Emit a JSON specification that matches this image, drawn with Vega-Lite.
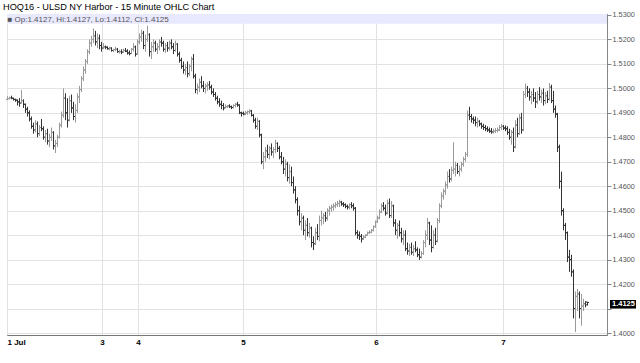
{
"$schema":"https://vega.github.io/schema/vega-lite/v6.json",
"width":600,"height":321,
"autosize":{"type":"none"},
"padding":{"left":7,"top":14,"right":33,"bottom":28},
"background":"white",
"config":{"view":{"stroke":"#888","strokeWidth":1},"font":"Liberation Sans","axis":{"labelOverlap":false,"labelBound":false}},
"title":{"text":"HOQ16 - ULSD NY Harbor - 15 Minute OHLC Chart","anchor":"start","frame":"group","fontSize":9.2,"fontWeight":"normal","color":"#000","baseline":"alphabetic","offset":4,"dx":-4,"dy":12},
"datasets":{"bars":[
{"t":0,"o":1.4955,"h":1.4968,"l":1.4952,"c":1.4958},
{"t":1,"o":1.4958,"h":1.4966,"l":1.4955,"c":1.4962},
{"t":2,"o":1.4962,"h":1.4970,"l":1.4956,"c":1.4960},
{"t":3,"o":1.4960,"h":1.4962,"l":1.4950,"c":1.4955},
{"t":4,"o":1.4955,"h":1.4958,"l":1.4945,"c":1.4952},
{"t":5,"o":1.4952,"h":1.4955,"l":1.4930,"c":1.4945},
{"t":6,"o":1.4945,"h":1.4960,"l":1.4925,"c":1.4940},
{"t":7,"o":1.4940,"h":1.4994,"l":1.4938,"c":1.4950},
{"t":8,"o":1.4950,"h":1.4955,"l":1.4920,"c":1.4935},
{"t":9,"o":1.4935,"h":1.4938,"l":1.4900,"c":1.4915},
{"t":10,"o":1.4915,"h":1.4925,"l":1.4885,"c":1.4900},
{"t":11,"o":1.4900,"h":1.4910,"l":1.4865,"c":1.4875},
{"t":12,"o":1.4875,"h":1.4885,"l":1.4835,"c":1.4845},
{"t":13,"o":1.4845,"h":1.4860,"l":1.4815,"c":1.4830},
{"t":14,"o":1.4830,"h":1.4870,"l":1.4820,"c":1.4855},
{"t":15,"o":1.4855,"h":1.4865,"l":1.4800,"c":1.4815},
{"t":16,"o":1.4815,"h":1.4850,"l":1.4805,"c":1.4840},
{"t":17,"o":1.4840,"h":1.4875,"l":1.4825,"c":1.4835},
{"t":18,"o":1.4835,"h":1.4845,"l":1.4790,"c":1.4800},
{"t":19,"o":1.4800,"h":1.4830,"l":1.4780,"c":1.4815},
{"t":20,"o":1.4815,"h":1.4835,"l":1.4770,"c":1.4785},
{"t":21,"o":1.4785,"h":1.4815,"l":1.4760,"c":1.4800},
{"t":22,"o":1.4800,"h":1.4840,"l":1.4785,"c":1.4820},
{"t":23,"o":1.4820,"h":1.4825,"l":1.4750,"c":1.4765},
{"t":24,"o":1.4765,"h":1.4790,"l":1.4736,"c":1.4775},
{"t":25,"o":1.4775,"h":1.4810,"l":1.4760,"c":1.4800},
{"t":26,"o":1.4800,"h":1.4860,"l":1.4795,"c":1.4850},
{"t":27,"o":1.4850,"h":1.4905,"l":1.4840,"c":1.4890},
{"t":28,"o":1.4890,"h":1.5000,"l":1.4880,"c":1.4960},
{"t":29,"o":1.4960,"h":1.4980,"l":1.4870,"c":1.4900},
{"t":30,"o":1.4900,"h":1.4960,"l":1.4840,"c":1.4870},
{"t":31,"o":1.4870,"h":1.4970,"l":1.4865,"c":1.4950},
{"t":32,"o":1.4950,"h":1.4975,"l":1.4900,"c":1.4920},
{"t":33,"o":1.4920,"h":1.4945,"l":1.4870,"c":1.4885},
{"t":34,"o":1.4885,"h":1.4935,"l":1.4860,"c":1.4910},
{"t":35,"o":1.4910,"h":1.4980,"l":1.4900,"c":1.4965},
{"t":36,"o":1.4965,"h":1.5010,"l":1.4940,"c":1.4995},
{"t":37,"o":1.4995,"h":1.5050,"l":1.4985,"c":1.5040},
{"t":38,"o":1.5040,"h":1.5090,"l":1.5030,"c":1.5075},
{"t":39,"o":1.5075,"h":1.5120,"l":1.5060,"c":1.5110},
{"t":40,"o":1.5110,"h":1.5160,"l":1.5100,"c":1.5150},
{"t":41,"o":1.5150,"h":1.5200,"l":1.5140,"c":1.5185},
{"t":42,"o":1.5185,"h":1.5215,"l":1.5170,"c":1.5200},
{"t":43,"o":1.5200,"h":1.5245,"l":1.5185,"c":1.5215},
{"t":44,"o":1.5215,"h":1.5235,"l":1.5175,"c":1.5190},
{"t":45,"o":1.5190,"h":1.5225,"l":1.5165,"c":1.5205},
{"t":46,"o":1.5205,"h":1.5220,"l":1.5160,"c":1.5175},
{"t":47,"o":1.5175,"h":1.5190,"l":1.5150,"c":1.5165},
{"t":48,"o":1.5165,"h":1.5185,"l":1.5160,"c":1.5170},
{"t":49,"o":1.5170,"h":1.5175,"l":1.5160,"c":1.5168},
{"t":50,"o":1.5168,"h":1.5172,"l":1.5158,"c":1.5162},
{"t":51,"o":1.5162,"h":1.5170,"l":1.5155,"c":1.5165},
{"t":52,"o":1.5165,"h":1.5168,"l":1.5150,"c":1.5155},
{"t":53,"o":1.5155,"h":1.5162,"l":1.5148,"c":1.5158},
{"t":54,"o":1.5158,"h":1.5170,"l":1.5152,"c":1.5160},
{"t":55,"o":1.5160,"h":1.5165,"l":1.5145,"c":1.5150},
{"t":56,"o":1.5150,"h":1.5158,"l":1.5142,"c":1.5150},
{"t":57,"o":1.5150,"h":1.5160,"l":1.5140,"c":1.5148},
{"t":58,"o":1.5148,"h":1.5162,"l":1.5145,"c":1.5155},
{"t":59,"o":1.5155,"h":1.5165,"l":1.5148,"c":1.5152},
{"t":60,"o":1.5152,"h":1.5160,"l":1.5138,"c":1.5145},
{"t":61,"o":1.5145,"h":1.5155,"l":1.5135,"c":1.5142},
{"t":62,"o":1.5142,"h":1.5165,"l":1.5140,"c":1.5160},
{"t":63,"o":1.5160,"h":1.5185,"l":1.5150,"c":1.5170},
{"t":64,"o":1.5170,"h":1.5175,"l":1.5130,"c":1.5140},
{"t":65,"o":1.5140,"h":1.5200,"l":1.5138,"c":1.5190},
{"t":66,"o":1.5190,"h":1.5225,"l":1.5180,"c":1.5210},
{"t":67,"o":1.5210,"h":1.5240,"l":1.5190,"c":1.5225},
{"t":68,"o":1.5225,"h":1.5235,"l":1.5160,"c":1.5175},
{"t":69,"o":1.5175,"h":1.5220,"l":1.5150,"c":1.5200},
{"t":70,"o":1.5200,"h":1.5256,"l":1.5190,"c":1.5220},
{"t":71,"o":1.5220,"h":1.5225,"l":1.5130,"c":1.5150},
{"t":72,"o":1.5150,"h":1.5190,"l":1.5120,"c":1.5170},
{"t":73,"o":1.5170,"h":1.5200,"l":1.5150,"c":1.5185},
{"t":74,"o":1.5185,"h":1.5195,"l":1.5150,"c":1.5160},
{"t":75,"o":1.5160,"h":1.5185,"l":1.5140,"c":1.5170},
{"t":76,"o":1.5170,"h":1.5200,"l":1.5155,"c":1.5190},
{"t":77,"o":1.5190,"h":1.5210,"l":1.5170,"c":1.5185},
{"t":78,"o":1.5185,"h":1.5195,"l":1.5150,"c":1.5160},
{"t":79,"o":1.5160,"h":1.5185,"l":1.5145,"c":1.5175},
{"t":80,"o":1.5175,"h":1.5190,"l":1.5150,"c":1.5165},
{"t":81,"o":1.5165,"h":1.5195,"l":1.5155,"c":1.5185},
{"t":82,"o":1.5185,"h":1.5200,"l":1.5160,"c":1.5170},
{"t":83,"o":1.5170,"h":1.5185,"l":1.5140,"c":1.5155},
{"t":84,"o":1.5155,"h":1.5195,"l":1.5150,"c":1.5180},
{"t":85,"o":1.5180,"h":1.5185,"l":1.5130,"c":1.5140},
{"t":86,"o":1.5140,"h":1.5150,"l":1.5105,"c":1.5115},
{"t":87,"o":1.5115,"h":1.5125,"l":1.5080,"c":1.5090},
{"t":88,"o":1.5090,"h":1.5110,"l":1.5060,"c":1.5075},
{"t":89,"o":1.5075,"h":1.5100,"l":1.5055,"c":1.5085},
{"t":90,"o":1.5085,"h":1.5110,"l":1.5045,"c":1.5060},
{"t":91,"o":1.5060,"h":1.5100,"l":1.5050,"c":1.5090},
{"t":92,"o":1.5090,"h":1.5130,"l":1.5070,"c":1.5120},
{"t":93,"o":1.5120,"h":1.5140,"l":1.5040,"c":1.5050},
{"t":94,"o":1.5050,"h":1.5060,"l":1.4980,"c":1.4995},
{"t":95,"o":1.4995,"h":1.5020,"l":1.4975,"c":1.5005},
{"t":96,"o":1.5005,"h":1.5040,"l":1.4985,"c":1.5025},
{"t":97,"o":1.5025,"h":1.5050,"l":1.5000,"c":1.5010},
{"t":98,"o":1.5010,"h":1.5030,"l":1.4985,"c":1.5000},
{"t":99,"o":1.5000,"h":1.5020,"l":1.4980,"c":1.5010},
{"t":100,"o":1.5010,"h":1.5025,"l":1.4990,"c":1.5015},
{"t":101,"o":1.5015,"h":1.5030,"l":1.4995,"c":1.5005},
{"t":102,"o":1.5005,"h":1.5015,"l":1.4975,"c":1.4985},
{"t":103,"o":1.4985,"h":1.5000,"l":1.4965,"c":1.4975},
{"t":104,"o":1.4975,"h":1.4985,"l":1.4950,"c":1.4960},
{"t":105,"o":1.4960,"h":1.4970,"l":1.4935,"c":1.4945},
{"t":106,"o":1.4945,"h":1.4960,"l":1.4925,"c":1.4935},
{"t":107,"o":1.4935,"h":1.4950,"l":1.4915,"c":1.4930},
{"t":108,"o":1.4930,"h":1.4940,"l":1.4910,"c":1.4920},
{"t":109,"o":1.4920,"h":1.4935,"l":1.4918,"c":1.4925},
{"t":110,"o":1.4925,"h":1.4932,"l":1.4920,"c":1.4928},
{"t":111,"o":1.4928,"h":1.4935,"l":1.4920,"c":1.4925},
{"t":112,"o":1.4925,"h":1.4930,"l":1.4915,"c":1.4922},
{"t":113,"o":1.4922,"h":1.4935,"l":1.4918,"c":1.4930},
{"t":114,"o":1.4930,"h":1.4940,"l":1.4922,"c":1.4935},
{"t":115,"o":1.4935,"h":1.4945,"l":1.4925,"c":1.4932},
{"t":116,"o":1.4932,"h":1.4935,"l":1.4895,"c":1.4900},
{"t":117,"o":1.4900,"h":1.4905,"l":1.4885,"c":1.4898},
{"t":118,"o":1.4898,"h":1.4905,"l":1.4890,"c":1.4895},
{"t":119,"o":1.4895,"h":1.4908,"l":1.4890,"c":1.4900},
{"t":120,"o":1.4900,"h":1.4910,"l":1.4892,"c":1.4905},
{"t":121,"o":1.4905,"h":1.4915,"l":1.4895,"c":1.4908},
{"t":122,"o":1.4908,"h":1.4912,"l":1.4885,"c":1.4890},
{"t":123,"o":1.4890,"h":1.4895,"l":1.4860,"c":1.4870},
{"t":124,"o":1.4870,"h":1.4880,"l":1.4835,"c":1.4845},
{"t":125,"o":1.4845,"h":1.4880,"l":1.4830,"c":1.4865},
{"t":126,"o":1.4865,"h":1.4870,"l":1.4800,"c":1.4810},
{"t":127,"o":1.4810,"h":1.4815,"l":1.4690,"c":1.4700},
{"t":128,"o":1.4700,"h":1.4740,"l":1.4670,"c":1.4720},
{"t":129,"o":1.4720,"h":1.4760,"l":1.4700,"c":1.4745},
{"t":130,"o":1.4745,"h":1.4770,"l":1.4715,"c":1.4730},
{"t":131,"o":1.4730,"h":1.4765,"l":1.4710,"c":1.4755},
{"t":132,"o":1.4755,"h":1.4775,"l":1.4725,"c":1.4740},
{"t":133,"o":1.4740,"h":1.4760,"l":1.4715,"c":1.4750},
{"t":134,"o":1.4750,"h":1.4790,"l":1.4735,"c":1.4775},
{"t":135,"o":1.4775,"h":1.4780,"l":1.4740,"c":1.4755},
{"t":136,"o":1.4755,"h":1.4765,"l":1.4710,"c":1.4720},
{"t":137,"o":1.4720,"h":1.4740,"l":1.4690,"c":1.4700},
{"t":138,"o":1.4700,"h":1.4720,"l":1.4650,"c":1.4670},
{"t":139,"o":1.4670,"h":1.4710,"l":1.4640,"c":1.4690},
{"t":140,"o":1.4690,"h":1.4700,"l":1.4620,"c":1.4635},
{"t":141,"o":1.4635,"h":1.4690,"l":1.4610,"c":1.4660},
{"t":142,"o":1.4660,"h":1.4680,"l":1.4600,"c":1.4615},
{"t":143,"o":1.4615,"h":1.4640,"l":1.4570,"c":1.4585},
{"t":144,"o":1.4585,"h":1.4600,"l":1.4530,"c":1.4545},
{"t":145,"o":1.4545,"h":1.4555,"l":1.4480,"c":1.4500},
{"t":146,"o":1.4500,"h":1.4520,"l":1.4440,"c":1.4455},
{"t":147,"o":1.4455,"h":1.4490,"l":1.4420,"c":1.4470},
{"t":148,"o":1.4470,"h":1.4480,"l":1.4400,"c":1.4420},
{"t":149,"o":1.4420,"h":1.4460,"l":1.4380,"c":1.4440},
{"t":150,"o":1.4440,"h":1.4470,"l":1.4395,"c":1.4410},
{"t":151,"o":1.4410,"h":1.4450,"l":1.4390,"c":1.4430},
{"t":152,"o":1.4430,"h":1.4435,"l":1.4350,"c":1.4370},
{"t":153,"o":1.4370,"h":1.4395,"l":1.4339,"c":1.4365},
{"t":154,"o":1.4365,"h":1.4430,"l":1.4360,"c":1.4410},
{"t":155,"o":1.4410,"h":1.4445,"l":1.4380,"c":1.4395},
{"t":156,"o":1.4395,"h":1.4480,"l":1.4375,"c":1.4460},
{"t":157,"o":1.4460,"h":1.4500,"l":1.4440,"c":1.4470},
{"t":158,"o":1.4470,"h":1.4490,"l":1.4445,"c":1.4480},
{"t":159,"o":1.4480,"h":1.4495,"l":1.4455,"c":1.4470},
{"t":160,"o":1.4470,"h":1.4510,"l":1.4460,"c":1.4500},
{"t":161,"o":1.4500,"h":1.4520,"l":1.4480,"c":1.4510},
{"t":162,"o":1.4510,"h":1.4525,"l":1.4495,"c":1.4515},
{"t":163,"o":1.4515,"h":1.4530,"l":1.4500,"c":1.4520},
{"t":164,"o":1.4520,"h":1.4535,"l":1.4510,"c":1.4525},
{"t":165,"o":1.4525,"h":1.4540,"l":1.4515,"c":1.4530},
{"t":166,"o":1.4530,"h":1.4545,"l":1.4515,"c":1.4535},
{"t":167,"o":1.4535,"h":1.4540,"l":1.4520,"c":1.4528},
{"t":168,"o":1.4528,"h":1.4535,"l":1.4515,"c":1.4525},
{"t":169,"o":1.4525,"h":1.4530,"l":1.4510,"c":1.4518},
{"t":170,"o":1.4518,"h":1.4525,"l":1.4505,"c":1.4515},
{"t":171,"o":1.4515,"h":1.4530,"l":1.4505,"c":1.4525},
{"t":172,"o":1.4525,"h":1.4535,"l":1.4510,"c":1.4520},
{"t":173,"o":1.4520,"h":1.4530,"l":1.4500,"c":1.4510},
{"t":174,"o":1.4510,"h":1.4515,"l":1.4400,"c":1.4410},
{"t":175,"o":1.4410,"h":1.4420,"l":1.4385,"c":1.4400},
{"t":176,"o":1.4400,"h":1.4415,"l":1.4380,"c":1.4395},
{"t":177,"o":1.4395,"h":1.4405,"l":1.4370,"c":1.4385},
{"t":178,"o":1.4385,"h":1.4400,"l":1.4380,"c":1.4392},
{"t":179,"o":1.4392,"h":1.4405,"l":1.4388,"c":1.4400},
{"t":180,"o":1.4400,"h":1.4415,"l":1.4398,"c":1.4410},
{"t":181,"o":1.4410,"h":1.4420,"l":1.4405,"c":1.4412},
{"t":182,"o":1.4412,"h":1.4425,"l":1.4408,"c":1.4420},
{"t":183,"o":1.4420,"h":1.4440,"l":1.4415,"c":1.4435},
{"t":184,"o":1.4435,"h":1.4460,"l":1.4430,"c":1.4455},
{"t":185,"o":1.4455,"h":1.4480,"l":1.4450,"c":1.4470},
{"t":186,"o":1.4470,"h":1.4505,"l":1.4465,"c":1.4495},
{"t":187,"o":1.4495,"h":1.4530,"l":1.4490,"c":1.4520},
{"t":188,"o":1.4520,"h":1.4535,"l":1.4500,"c":1.4510},
{"t":189,"o":1.4510,"h":1.4525,"l":1.4480,"c":1.4490},
{"t":190,"o":1.4490,"h":1.4545,"l":1.4485,"c":1.4530},
{"t":191,"o":1.4530,"h":1.4550,"l":1.4470,"c":1.4480},
{"t":192,"o":1.4480,"h":1.4540,"l":1.4470,"c":1.4520},
{"t":193,"o":1.4520,"h":1.4525,"l":1.4435,"c":1.4450},
{"t":194,"o":1.4450,"h":1.4465,"l":1.4400,"c":1.4420},
{"t":195,"o":1.4420,"h":1.4450,"l":1.4385,"c":1.4440},
{"t":196,"o":1.4440,"h":1.4460,"l":1.4395,"c":1.4410},
{"t":197,"o":1.4410,"h":1.4430,"l":1.4370,"c":1.4385},
{"t":198,"o":1.4385,"h":1.4420,"l":1.4360,"c":1.4400},
{"t":199,"o":1.4400,"h":1.4420,"l":1.4335,"c":1.4345},
{"t":200,"o":1.4345,"h":1.4370,"l":1.4320,"c":1.4335},
{"t":201,"o":1.4335,"h":1.4365,"l":1.4315,"c":1.4350},
{"t":202,"o":1.4350,"h":1.4370,"l":1.4320,"c":1.4330},
{"t":203,"o":1.4330,"h":1.4360,"l":1.4315,"c":1.4345},
{"t":204,"o":1.4345,"h":1.4375,"l":1.4330,"c":1.4340},
{"t":205,"o":1.4340,"h":1.4350,"l":1.4310,"c":1.4320},
{"t":206,"o":1.4320,"h":1.4345,"l":1.4299,"c":1.4310},
{"t":207,"o":1.4310,"h":1.4335,"l":1.4305,"c":1.4325},
{"t":208,"o":1.4325,"h":1.4380,"l":1.4320,"c":1.4370},
{"t":209,"o":1.4370,"h":1.4420,"l":1.4350,"c":1.4400},
{"t":210,"o":1.4400,"h":1.4470,"l":1.4380,"c":1.4450},
{"t":211,"o":1.4450,"h":1.4455,"l":1.4360,"c":1.4380},
{"t":212,"o":1.4380,"h":1.4440,"l":1.4330,"c":1.4350},
{"t":213,"o":1.4350,"h":1.4420,"l":1.4345,"c":1.4400},
{"t":214,"o":1.4400,"h":1.4430,"l":1.4360,"c":1.4375},
{"t":215,"o":1.4375,"h":1.4470,"l":1.4370,"c":1.4460},
{"t":216,"o":1.4460,"h":1.4530,"l":1.4450,"c":1.4520},
{"t":217,"o":1.4520,"h":1.4575,"l":1.4510,"c":1.4560},
{"t":218,"o":1.4560,"h":1.4590,"l":1.4545,"c":1.4580},
{"t":219,"o":1.4580,"h":1.4620,"l":1.4565,"c":1.4605},
{"t":220,"o":1.4605,"h":1.4660,"l":1.4590,"c":1.4640},
{"t":221,"o":1.4640,"h":1.4670,"l":1.4615,"c":1.4630},
{"t":222,"o":1.4630,"h":1.4680,"l":1.4620,"c":1.4665},
{"t":223,"o":1.4665,"h":1.4780,"l":1.4650,"c":1.4670},
{"t":224,"o":1.4670,"h":1.4700,"l":1.4640,"c":1.4685},
{"t":225,"o":1.4685,"h":1.4695,"l":1.4650,"c":1.4660},
{"t":226,"o":1.4660,"h":1.4685,"l":1.4640,"c":1.4670},
{"t":227,"o":1.4670,"h":1.4700,"l":1.4660,"c":1.4690},
{"t":228,"o":1.4690,"h":1.4720,"l":1.4680,"c":1.4710},
{"t":229,"o":1.4710,"h":1.4740,"l":1.4700,"c":1.4730},
{"t":230,"o":1.4730,"h":1.4910,"l":1.4720,"c":1.4890},
{"t":231,"o":1.4890,"h":1.4925,"l":1.4870,"c":1.4885},
{"t":232,"o":1.4885,"h":1.4895,"l":1.4860,"c":1.4875},
{"t":233,"o":1.4875,"h":1.4885,"l":1.4855,"c":1.4870},
{"t":234,"o":1.4870,"h":1.4885,"l":1.4845,"c":1.4860},
{"t":235,"o":1.4860,"h":1.4880,"l":1.4840,"c":1.4865},
{"t":236,"o":1.4865,"h":1.4870,"l":1.4845,"c":1.4855},
{"t":237,"o":1.4855,"h":1.4860,"l":1.4835,"c":1.4845},
{"t":238,"o":1.4845,"h":1.4855,"l":1.4830,"c":1.4840},
{"t":239,"o":1.4840,"h":1.4850,"l":1.4825,"c":1.4835},
{"t":240,"o":1.4835,"h":1.4845,"l":1.4822,"c":1.4830},
{"t":241,"o":1.4830,"h":1.4840,"l":1.4818,"c":1.4825},
{"t":242,"o":1.4825,"h":1.4838,"l":1.4815,"c":1.4822},
{"t":243,"o":1.4822,"h":1.4835,"l":1.4815,"c":1.4825},
{"t":244,"o":1.4825,"h":1.4838,"l":1.4818,"c":1.4828},
{"t":245,"o":1.4828,"h":1.4840,"l":1.4820,"c":1.4830},
{"t":246,"o":1.4830,"h":1.4850,"l":1.4825,"c":1.4840},
{"t":247,"o":1.4840,"h":1.4855,"l":1.4830,"c":1.4845},
{"t":248,"o":1.4845,"h":1.4850,"l":1.4830,"c":1.4838},
{"t":249,"o":1.4838,"h":1.4848,"l":1.4825,"c":1.4835},
{"t":250,"o":1.4835,"h":1.4845,"l":1.4810,"c":1.4820},
{"t":251,"o":1.4820,"h":1.4835,"l":1.4790,"c":1.4800},
{"t":252,"o":1.4800,"h":1.4830,"l":1.4770,"c":1.4820},
{"t":253,"o":1.4820,"h":1.4840,"l":1.4740,"c":1.4760},
{"t":254,"o":1.4760,"h":1.4870,"l":1.4755,"c":1.4850},
{"t":255,"o":1.4850,"h":1.4880,"l":1.4800,"c":1.4815},
{"t":256,"o":1.4815,"h":1.4895,"l":1.4810,"c":1.4880},
{"t":257,"o":1.4880,"h":1.4900,"l":1.4815,"c":1.4830},
{"t":258,"o":1.4830,"h":1.4990,"l":1.4825,"c":1.4975},
{"t":259,"o":1.4975,"h":1.5020,"l":1.4960,"c":1.5000},
{"t":260,"o":1.5000,"h":1.5010,"l":1.4965,"c":1.4985},
{"t":261,"o":1.4985,"h":1.5000,"l":1.4950,"c":1.4965},
{"t":262,"o":1.4965,"h":1.4990,"l":1.4935,"c":1.4975},
{"t":263,"o":1.4975,"h":1.5000,"l":1.4945,"c":1.4960},
{"t":264,"o":1.4960,"h":1.4985,"l":1.4920,"c":1.4945},
{"t":265,"o":1.4945,"h":1.4990,"l":1.4935,"c":1.4975},
{"t":266,"o":1.4975,"h":1.5005,"l":1.4950,"c":1.4965},
{"t":267,"o":1.4965,"h":1.4995,"l":1.4940,"c":1.4980},
{"t":268,"o":1.4980,"h":1.5000,"l":1.4930,"c":1.4950},
{"t":269,"o":1.4950,"h":1.4985,"l":1.4935,"c":1.4970},
{"t":270,"o":1.4970,"h":1.4990,"l":1.4940,"c":1.4955},
{"t":271,"o":1.4955,"h":1.5022,"l":1.4950,"c":1.5005},
{"t":272,"o":1.5005,"h":1.5015,"l":1.4940,"c":1.4950},
{"t":273,"o":1.4950,"h":1.4990,"l":1.4900,"c":1.4915},
{"t":274,"o":1.4915,"h":1.4930,"l":1.4880,"c":1.4895},
{"t":275,"o":1.4895,"h":1.4900,"l":1.4740,"c":1.4760},
{"t":276,"o":1.4760,"h":1.4770,"l":1.4590,"c":1.4620},
{"t":277,"o":1.4620,"h":1.4660,"l":1.4480,"c":1.4500},
{"t":278,"o":1.4500,"h":1.4510,"l":1.4420,"c":1.4440},
{"t":279,"o":1.4440,"h":1.4450,"l":1.4380,"c":1.4410},
{"t":280,"o":1.4410,"h":1.4415,"l":1.4290,"c":1.4310},
{"t":281,"o":1.4310,"h":1.4340,"l":1.4250,"c":1.4300},
{"t":282,"o":1.4300,"h":1.4320,"l":1.4230,"c":1.4250},
{"t":283,"o":1.4250,"h":1.4260,"l":1.4060,"c":1.4100},
{"t":284,"o":1.4100,"h":1.4170,"l":1.4004,"c":1.4150},
{"t":285,"o":1.4150,"h":1.4180,"l":1.4090,"c":1.4160},
{"t":286,"o":1.4160,"h":1.4170,"l":1.4060,"c":1.4100},
{"t":287,"o":1.4100,"h":1.4160,"l":1.4030,"c":1.4110},
{"t":288,"o":1.4110,"h":1.4140,"l":1.4090,"c":1.4120},
{"t":289,"o":1.4120,"h":1.4130,"l":1.4105,"c":1.4115},
{"t":290,"o":1.4127,"h":1.4127,"l":1.4112,"c":1.4125}
]},
"layer":[
{"data":{"name":"bars"},
 "mark":{"type":"rule","strokeWidth":1,"xOffset":0.5},
 "encoding":{
  "x":{"field":"t","type":"quantitative","scale":{"domain":[0,300],"nice":false,"zero":false},
   "axis":{"title":null,"values":[0,47.5,65.5,118,184.5,248],
    "labelExpr":"datum.value==0?'1 Jul':datum.value==47.5?'3':datum.value==65.5?'4':datum.value==118?'5':datum.value==184.5?'6':'7'",
    "grid":true,"gridColor":"#e2e2e2","ticks":false,"domainColor":"#777","labelFontSize":8,"labelFontWeight":"bold","labelColor":"#000","labelPadding":3,"labelFlush":true,"labelOverlap":false}},
  "y":{"field":"l","type":"quantitative","scale":{"domain":[1.3992,1.5304],"nice":false,"zero":false},
   "axis":{"orient":"right","title":null,"values":[1.40,1.41,1.42,1.43,1.44,1.45,1.46,1.47,1.48,1.49,1.50,1.51,1.52,1.53],"labelExpr":"datum.value > 1.405 && datum.value < 1.415 ? '' : format(datum.value, '.4f')","grid":true,"gridColor":"#e2e2e2","tickColor":"#888","tickSize":4,"domainColor":"#888","labelFontSize":7.3,"labelColor":"#555","labelPadding":1,"labelOverlap":false,"labelFlush":false,"labelBound":false}},
  "y2":{"field":"h"},
  "color":{"condition":{"test":"datum.c < datum.o","value":"#333333"},"value":"#9a9a9a"}
 }},
{"data":{"values":[{"band":"legend"}]},
 "mark":{"type":"rect","color":"#e8e8ff"},
 "encoding":{"x":{"datum":0},"x2":{"datum":300},
  "y":{"datum":1.5304,"axis":{"orient":"right","title":null,"values":[1.40,1.41,1.42,1.43,1.44,1.45,1.46,1.47,1.48,1.49,1.50,1.51,1.52,1.53],"labelExpr":"datum.value > 1.405 && datum.value < 1.415 ? '' : format(datum.value, '.4f')","grid":true,"gridColor":"#e2e2e2","tickColor":"#888","tickSize":4,"domainColor":"#888","labelFontSize":7.3,"labelColor":"#555","labelPadding":1,"labelOverlap":false,"labelFlush":false,"labelBound":false}},
  "y2":{"datum":1.5264}}},
{"data":{"name":"bars"},
 "mark":{"type":"rule","strokeWidth":1,"xOffset":-1,"x2Offset":0.5},
 "encoding":{"x":{"field":"t","type":"quantitative"},"x2":{"field":"t"},
  "y":{"field":"o","type":"quantitative","axis":{"orient":"right","title":null,"values":[1.40,1.41,1.42,1.43,1.44,1.45,1.46,1.47,1.48,1.49,1.50,1.51,1.52,1.53],"labelExpr":"datum.value > 1.405 && datum.value < 1.415 ? '' : format(datum.value, '.4f')","grid":true,"gridColor":"#e2e2e2","tickColor":"#888","tickSize":4,"domainColor":"#888","labelFontSize":7.3,"labelColor":"#555","labelPadding":1,"labelOverlap":false,"labelFlush":false,"labelBound":false}},
  "color":{"condition":{"test":"datum.c < datum.o","value":"#333333"},"value":"#9a9a9a"}}},
{"data":{"name":"bars"},
 "mark":{"type":"rule","strokeWidth":1,"xOffset":0.5,"x2Offset":2},
 "encoding":{"x":{"field":"t","type":"quantitative"},"x2":{"field":"t"},
  "y":{"field":"c","type":"quantitative","axis":{"orient":"right","title":null,"values":[1.40,1.41,1.42,1.43,1.44,1.45,1.46,1.47,1.48,1.49,1.50,1.51,1.52,1.53],"labelExpr":"datum.value > 1.405 && datum.value < 1.415 ? '' : format(datum.value, '.4f')","grid":true,"gridColor":"#e2e2e2","tickColor":"#888","tickSize":4,"domainColor":"#888","labelFontSize":7.3,"labelColor":"#555","labelPadding":1,"labelOverlap":false,"labelFlush":false,"labelBound":false}},
  "color":{"condition":{"test":"datum.c < datum.o","value":"#333333"},"value":"#9a9a9a"}}},
{"data":{"values":[{"s":"■ Op:1.4127, Hi:1.4127, Lo:1.4112, Cl:1.4125"}]},
 "mark":{"type":"text","align":"left","baseline":"alphabetic","fontSize":8,"color":"#555","dx":0.5},
 "encoding":{"x":{"datum":0},
  "y":{"datum":1.5271,"axis":{"orient":"right","title":null,"values":[1.40,1.41,1.42,1.43,1.44,1.45,1.46,1.47,1.48,1.49,1.50,1.51,1.52,1.53],"labelExpr":"datum.value > 1.405 && datum.value < 1.415 ? '' : format(datum.value, '.4f')","grid":true,"gridColor":"#e2e2e2","tickColor":"#888","tickSize":4,"domainColor":"#888","labelFontSize":7.3,"labelColor":"#555","labelPadding":1,"labelOverlap":false,"labelFlush":false,"labelBound":false}},
  "text":{"field":"s"}}},
{"data":{"values":[{"s":"1.4125"}]},
 "mark":{"type":"rect","color":"#000"},
 "encoding":{"x":{"datum":301.5},"x2":{"datum":314.5},
  "y":{"datum":1.4135,"axis":{"orient":"right","title":null,"values":[1.40,1.41,1.42,1.43,1.44,1.45,1.46,1.47,1.48,1.49,1.50,1.51,1.52,1.53],"labelExpr":"datum.value > 1.405 && datum.value < 1.415 ? '' : format(datum.value, '.4f')","grid":true,"gridColor":"#e2e2e2","tickColor":"#888","tickSize":4,"domainColor":"#888","labelFontSize":7.3,"labelColor":"#555","labelPadding":1,"labelOverlap":false,"labelFlush":false,"labelBound":false}},
  "y2":{"datum":1.4100}}},
{"data":{"values":[{"s":"1.4125"}]},
 "mark":{"type":"text","align":"left","baseline":"middle","fontSize":7.5,"fontWeight":"bold","color":"#fff","dx":2},
 "encoding":{"x":{"datum":301.5},
  "y":{"datum":1.41175,"axis":{"orient":"right","title":null,"values":[1.40,1.41,1.42,1.43,1.44,1.45,1.46,1.47,1.48,1.49,1.50,1.51,1.52,1.53],"labelExpr":"datum.value > 1.405 && datum.value < 1.415 ? '' : format(datum.value, '.4f')","grid":true,"gridColor":"#e2e2e2","tickColor":"#888","tickSize":4,"domainColor":"#888","labelFontSize":7.3,"labelColor":"#555","labelPadding":1,"labelOverlap":false,"labelFlush":false,"labelBound":false}},
  "text":{"field":"s"}}}
]
}
